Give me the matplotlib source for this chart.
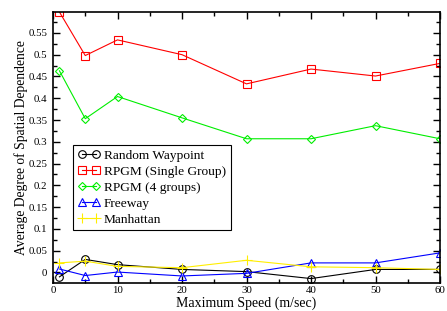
import matplotlib
matplotlib.use("Agg")
from matplotlib import pyplot as plt
from matplotlib.ticker import MultipleLocator

plt.rcParams['font.family'] = ['Liberation Serif', 'DejaVu Serif']
plt.rcParams['font.size'] = 9

# maximum speed values (m/sec)
speeds = [1, 5, 10, 20, 30, 40, 50, 60]

# average degree of spatial dependence per mobility model
random_waypoint = [-0.010, 0.030, 0.018, 0.007, 0.002, -0.014, 0.007, 0.007]
rpgm_single = [0.598, 0.498, 0.534, 0.500, 0.433, 0.467, 0.451, 0.480]
rpgm_4groups = [0.463, 0.353, 0.404, 0.355, 0.307, 0.307, 0.337, 0.307]
freeway = [0.008, -0.007, 0.001, -0.008, -0.002, 0.022, 0.022, 0.045]
manhattan = [0.022, 0.026, 0.014, 0.011, 0.028, 0.013, 0.011, 0.007]

labels = ['Random Waypoint', 'RPGM (Single Group)', 'RPGM (4 groups)', 'Freeway', 'Manhattan']

fig = plt.figure(figsize=(4.47, 3.11), dpi=100)
ax = fig.add_axes([53 / 447, 28.5 / 311, 387 / 447, 270.5 / 311])

ms = 5.5
ax.plot(speeds, random_waypoint, '-o', color='black', lw=0.8, ms=ms, mfc='none', mew=0.8, label=labels[0])
ax.plot(speeds, rpgm_single, '-s', color='red', lw=0.8, ms=ms, mfc='none', mew=0.8, label=labels[1])
ax.plot(speeds, rpgm_4groups, '-D', color='#00ee00', lw=0.8, ms=ms - 1, mfc='none', mew=0.8, label=labels[2])
ax.plot(speeds, freeway, '-^', color='blue', lw=0.8, ms=ms, mfc='none', mew=0.8, label=labels[3])
ax.plot(speeds, manhattan, '-+', color='#ffee00', lw=0.8, ms=ms + 2, mew=0.8, label=labels[4])

ax.set_xlim(0, 60)
ax.set_ylim(-0.023, 0.598)
ax.xaxis.set_major_locator(MultipleLocator(10))
ax.xaxis.set_minor_locator(MultipleLocator(5))
ax.yaxis.set_minor_locator(MultipleLocator(0.025))
ax.set_yticks([0, 0.05, 0.1, 0.15, 0.2, 0.25, 0.3, 0.35, 0.4, 0.45, 0.5, 0.55])
ax.set_yticklabels(['0', '0.05', '0.1', '0.15', '0.2', '0.25', '0.3', '0.35', '0.4', '0.45', '0.5', '0.55'])
ax.tick_params(which='both', direction='in', top=True, right=True, labelsize=7.8)
ax.tick_params(axis='x', pad=2.5)
ax.tick_params(axis='y', pad=4)
ax.tick_params(which='major', length=5, width=1)
ax.tick_params(which='minor', length=3, width=1)
for s in ax.spines.values():
    s.set_linewidth(1.2)

ax.set_xlabel('Maximum Speed (m/sec)', labelpad=1, fontsize=10)
ax.set_ylabel('Average Degree of Spatial Dependence', labelpad=0.5, fontsize=9.8)

leg = ax.legend(loc='upper left', bbox_to_anchor=(0.052, 0.51), numpoints=2, handlelength=1.65,
                fancybox=False, edgecolor='black', framealpha=1, borderpad=0.35,
                labelspacing=0.28, handletextpad=0.3, borderaxespad=0, fontsize=9.6)
leg.get_frame().set_linewidth(0.8)

fig.savefig('out.png', dpi=100)
